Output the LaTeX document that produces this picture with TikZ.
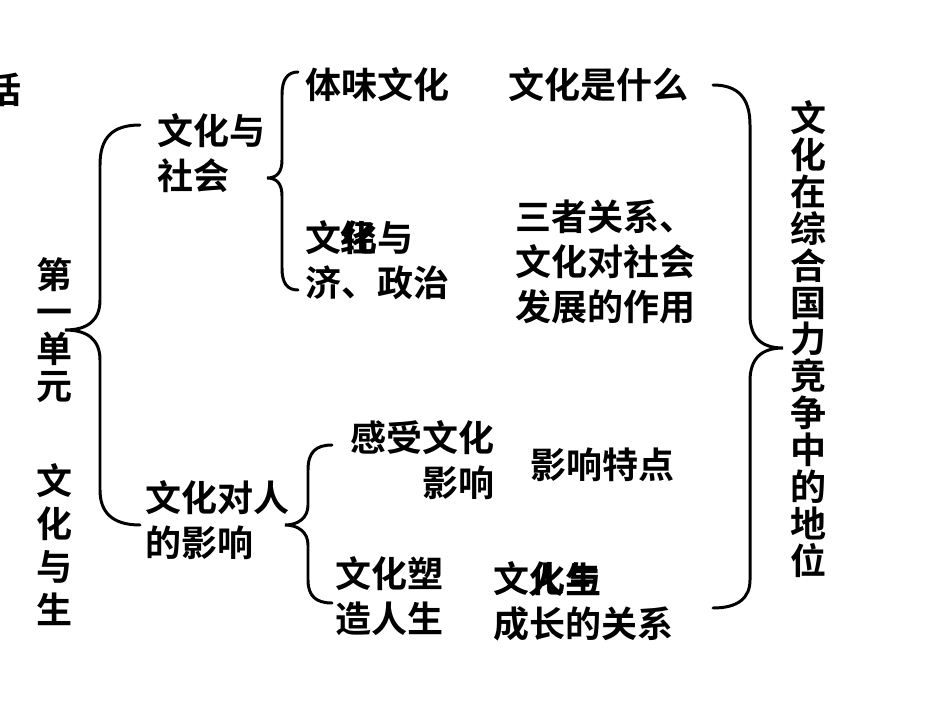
\documentclass[tikz,border=0pt]{standalone}
\usepackage{fontspec}
\setmainfont{Noto Sans CJK SC}[BoldFont={* Bold}]
\usepackage{tikz}

\begin{document}
\begin{tikzpicture}[x=0.02cm, y=-0.02cm, thick,
  lbl/.style={inner sep=0pt, font=\bfseries\fontsize{20.5}{25.5}\selectfont},
  vlbl/.style={inner sep=0pt, align=center, font=\bfseries\fontsize{20.5}{21}\selectfont},
  brc/.style={line width=1.7pt, line cap=round}]
\useasboundingbox (0,0) rectangle (950,713);

\node [lbl] (hua) at (4,90) {话};
\node [vlbl] (u1) at (55,330) {第\\一\\单\\元};
\node [vlbl, font=\bfseries\fontsize{20.5}{24.5}\selectfont] (u2) at (55,545) {文\\化\\与\\生};

\node [lbl, anchor=west, align=left] (b1) at (157,153) {文化与\\社会};
\node [lbl, anchor=west, align=left] (b2) at (145,520) {文化对人\\的影响};

\node [lbl, anchor=west] (c1) at (305,85) {体味文化};
\node [lbl, anchor=west, align=left] (c2) at (305,260) {文化与\\济、政治};
\node [lbl] (c2x) at (359,237) {经};
\node [lbl, anchor=east, align=right] (c3) at (495,460) {感受文化\\影响};
\node [lbl, anchor=west, align=left] (c4) at (335,596) {文化塑\\造人生};

\node [lbl, anchor=west] (d1) at (508,85) {文化是什么};
\node [lbl, anchor=west, align=left] (d2) at (515,262) {三者关系、\\文化对社会\\发展的作用};
\node [lbl, anchor=west] (d3) at (530,465) {影响特点};
\node [lbl, anchor=west, align=left] (d4) at (493,601) {文化与\\成长的关系};
\node [lbl] (d4x) at (565,580) {人生};

\node [vlbl] (e1) at (808,339) {文\\化\\在\\综\\合\\国\\力\\竞\\争\\中\\的\\地\\位};

% braces
\draw [brc] (140,125) .. controls (112,125) and (100,138) .. (100,165) -- (100,300)
  .. controls (100,320) and (88,330) .. (65,330) .. controls (88,330) and (100,340) .. (100,360)
  -- (100,490) .. controls (100,512) and (112,525) .. (140,525);
\draw [brc] (298,72) .. controls (287,72) and (282,80) .. (282,95) -- (282,160)
  .. controls (282,172) and (277,178) .. (267,178) .. controls (277,178) and (282,184) .. (282,196)
  -- (282,268) .. controls (282,283) and (287,290) .. (298,290);
\draw [brc] (332,445) .. controls (316,445) and (308,452) .. (308,470) -- (308,505)
  .. controls (308,518) and (298,525) .. (285,525) .. controls (298,525) and (308,532) .. (308,545)
  -- (308,580) .. controls (308,596) and (316,603) .. (332,603);
\draw [brc] (713,85) .. controls (738,85) and (750,98) .. (750,125) -- (750,315)
  .. controls (750,338) and (762,348) .. (783,348) .. controls (762,348) and (750,358) .. (750,381)
  -- (750,580) .. controls (750,598) and (738,608) .. (713,608);
\end{tikzpicture}
\end{document}
